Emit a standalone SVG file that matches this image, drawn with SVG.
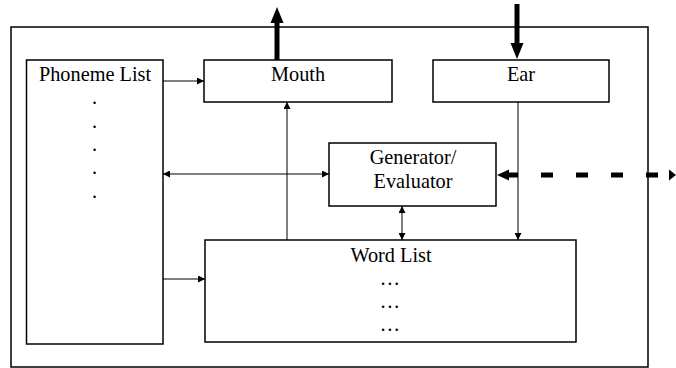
<svg xmlns="http://www.w3.org/2000/svg" width="676" height="368" viewBox="0 0 676 368">
<style>
.box{fill:#fff;stroke:#000;stroke-width:1.5}
.txt{font-family:"Liberation Serif","Times New Roman",serif;font-size:20.3px;fill:#000;text-anchor:middle}
.thin{fill:none;stroke:#000;stroke-width:1}
.thick{fill:none;stroke:#000;stroke-width:5}
</style>
<defs>
<marker id="a" viewBox="0 0 10 10" refX="10" refY="5" markerWidth="7" markerHeight="7" markerUnits="userSpaceOnUse" orient="auto-start-reverse"><path d="M0,0L10,5L0,10z" fill="#000"/></marker>
</defs>
<rect id="outer" x="11" y="27" width="637" height="340" fill="#fff" stroke="#000" stroke-width="1.5"/>
<g id="phoneme-list">
<rect class="box" x="26.5" y="60" width="136.5" height="284"/>
<text class="txt" x="95" y="81">Phoneme List</text>
<text class="txt" x="94.5" y="104">.</text>
<text class="txt" x="94.5" y="128">.</text>
<text class="txt" x="94.5" y="151">.</text>
<text class="txt" x="94.5" y="174">.</text>
<text class="txt" x="94.5" y="198">.</text>
</g>
<g id="mouth">
<rect class="box" x="204" y="60" width="188" height="42"/>
<text class="txt" x="298" y="81">Mouth</text>
</g>
<g id="ear">
<rect class="box" x="433" y="60" width="176" height="42"/>
<text class="txt" x="521" y="81">Ear</text>
</g>
<g id="generator">
<rect class="box" x="329" y="143" width="167" height="63"/>
<text class="txt" x="413" y="164">Generator/</text>
<text class="txt" x="413" y="188">Evaluator</text>
</g>
<g id="word-list">
<rect class="box" x="205" y="240" width="371" height="102"/>
<text class="txt" x="391" y="262">Word List</text>
<text class="txt" x="390" y="285">…</text>
<text class="txt" x="390" y="308">…</text>
<text class="txt" x="390" y="331">…</text>
</g>
<g id="connectors">
<path class="thin" d="M163,81H204" marker-end="url(#a)"/>
<path class="thin" d="M163,279H205" marker-end="url(#a)"/>
<path class="thin" d="M287,240V102" marker-end="url(#a)"/>
<path class="thin" d="M163,174H329" marker-start="url(#a)" marker-end="url(#a)"/>
<path class="thin" d="M402,206V240" marker-start="url(#a)" marker-end="url(#a)"/>
<path class="thin" d="M518,102V240" marker-end="url(#a)"/>
<path class="thick" d="M277,60V23"/>
<path d="M277,7L283.5,23H270.5z" fill="#000"/>
<path class="thick" d="M517,4V43"/>
<path d="M517,59L523.5,43H510.5z" fill="#000"/>
<path d="M497,175L509,169.5V180.5z" fill="#000"/>
<path d="M676,175L669,169.5V180.5z" fill="#000"/>
<path d="M506,175H669" fill="none" stroke="#000" stroke-width="5" stroke-dasharray="12 23"/>
</g>
</svg>
